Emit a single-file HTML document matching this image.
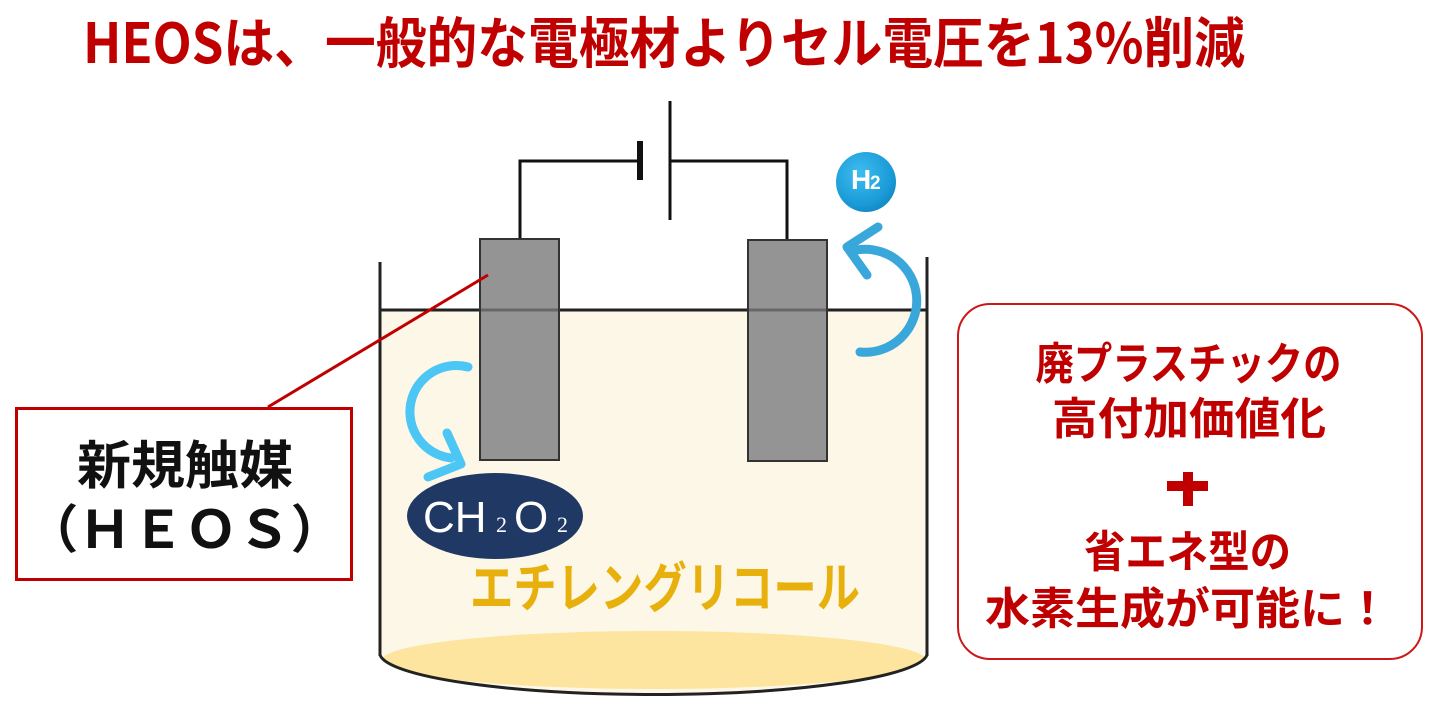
<!DOCTYPE html>
<html><head><meta charset="utf-8"><style>
html,body{margin:0;padding:0;background:#fff;}
svg{display:block;}
</style></head><body>
<svg width="1440" height="721" viewBox="0 0 1440 721" xmlns="http://www.w3.org/2000/svg">
<defs>
<radialGradient id="hg" cx="0.4" cy="0.35" r="0.7">
<stop offset="0" stop-color="#3fbdf0"/>
<stop offset="0.75" stop-color="#1a9bd7"/>
<stop offset="1" stop-color="#1187c2"/>
</radialGradient>
<clipPath id="bk">
<path d="M380 300 H927 V655 A274 42 0 0 1 380 655 Z"/>
</clipPath>
</defs>
<rect width="1440" height="721" fill="#fff"/>

<!-- Title -->
<text x="83" y="63" font-family="'Noto Sans CJK JP',sans-serif" font-weight="bold" font-size="55" fill="#c00000" textLength="1162" lengthAdjust="spacingAndGlyphs">HEOSは、一般的な電極材よりセル電圧を13%削減</text>

<!-- Beaker liquid -->
<path d="M380 310 H927 V655 A274 42 0 0 1 380 655 Z" fill="#fdf7e8"/>
<g clip-path="url(#bk)">
<ellipse cx="654" cy="660" rx="272" ry="29" fill="#fde5a0"/>
</g>
<!-- beaker walls -->
<line x1="380" y1="262" x2="380" y2="656" stroke="#222" stroke-width="3"/>
<line x1="927" y1="257" x2="927" y2="656" stroke="#222" stroke-width="3"/>
<path d="M380 655 A274 42 0 0 0 927 655" fill="none" stroke="#222" stroke-width="3"/>
<!-- liquid surface -->
<line x1="380" y1="310" x2="927" y2="310" stroke="#222" stroke-width="3"/>

<!-- wires & battery -->
<path d="M520 240 V161 H639" fill="none" stroke="#111" stroke-width="3"/>
<path d="M670 161 H787 V241" fill="none" stroke="#111" stroke-width="3"/>
<rect x="637" y="141" width="6" height="39" fill="#111"/>
<line x1="670" y1="101" x2="670" y2="220" stroke="#111" stroke-width="3"/>

<!-- electrodes -->
<rect x="480" y="239" width="79" height="221" fill="#949494" stroke="#333" stroke-width="2"/>
<rect x="748" y="240" width="79" height="221" fill="#949494" stroke="#333" stroke-width="2"/>
<line x1="481" y1="310" x2="558" y2="310" stroke="rgba(0,0,0,0.3)" stroke-width="3"/>
<line x1="749" y1="310" x2="826" y2="310" stroke="rgba(0,0,0,0.3)" stroke-width="3"/>

<!-- red callout line -->
<line x1="268" y1="407" x2="488" y2="275" stroke="#c00000" stroke-width="3"/>

<!-- right blue arrow -->
<path d="M860 352 A51.5 51.5 0 1 0 852 251" fill="none" stroke="#3aa7db" stroke-width="9" stroke-linecap="round"/>
<path d="M878 227 L847 247 L867 275" fill="none" stroke="#3aa7db" stroke-width="9" stroke-linecap="round" stroke-linejoin="round"/>

<!-- left cyan arrow -->
<path d="M468 367 A46.4 46.4 0 1 0 451 458" fill="none" stroke="#4cc6f4" stroke-width="9" stroke-linecap="round"/>
<path d="M447 433 L461 464 L428 477" fill="none" stroke="#4cc6f4" stroke-width="9" stroke-linecap="round" stroke-linejoin="round"/>

<!-- H2 ball -->
<circle cx="866" cy="182" r="30" fill="url(#hg)"/>
<text x="851" y="189" font-family="'Liberation Sans',sans-serif" font-weight="bold" font-size="28" fill="#fff">H</text>
<text x="870" y="189" font-family="'Liberation Sans',sans-serif" font-weight="bold" font-size="19" fill="#fff">2</text>

<!-- CH2O2 -->
<ellipse cx="495" cy="516" rx="88" ry="43" fill="#1f3864"/>
<text x="423" y="532" font-family="'Liberation Sans',sans-serif" font-size="44" fill="#fff">CH</text>
<text x="496" y="532" font-family="'Liberation Serif',serif" font-size="22" fill="#fff">2</text>
<text x="514" y="532" font-family="'Liberation Sans',sans-serif" font-size="44" fill="#fff">O</text>
<text x="557" y="532" font-family="'Liberation Serif',serif" font-size="22" fill="#fff">2</text>

<!-- Ethylene glycol -->
<text x="470" y="607" font-family="'Noto Sans CJK JP',sans-serif" font-weight="bold" font-size="54" fill="#e8b00c" textLength="390" lengthAdjust="spacingAndGlyphs">エチレングリコール</text>

<!-- left box -->
<rect x="16.5" y="408.5" width="335" height="171" fill="#fff" stroke="#c00000" stroke-width="3"/>
<text x="185" y="484" text-anchor="middle" font-family="'Noto Sans CJK JP',sans-serif" font-weight="bold" font-size="52" fill="#111" textLength="216" lengthAdjust="spacingAndGlyphs">新規触媒</text>
<text x="184.5" y="548" text-anchor="middle" font-family="'Noto Sans CJK JP',sans-serif" font-weight="bold" font-size="52" fill="#111" textLength="318" lengthAdjust="spacingAndGlyphs">（ＨＥＯＳ）</text>

<!-- right box -->
<rect x="958" y="304" width="464" height="355" rx="32" ry="32" fill="#fff" stroke="#cc1818" stroke-width="2"/>
<g font-family="'Noto Sans CJK JP',sans-serif" font-weight="bold" font-size="44" fill="#c00000" text-anchor="middle">
<text x="1188.5" y="379" textLength="306" lengthAdjust="spacingAndGlyphs">廃プラスチックの</text>
<text x="1189" y="434" textLength="274" lengthAdjust="spacingAndGlyphs">高付加価値化</text>
<text x="1187.5" y="567" textLength="207" lengthAdjust="spacingAndGlyphs">省エネ型の</text>
<text x="1187.5" y="624" textLength="405" lengthAdjust="spacingAndGlyphs">水素生成が可能に！</text>
</g>
<rect x="1167" y="481" width="41" height="10" fill="#c00000"/>
<rect x="1183" y="472" width="10" height="34" fill="#c00000"/>
</svg>
</body></html>
